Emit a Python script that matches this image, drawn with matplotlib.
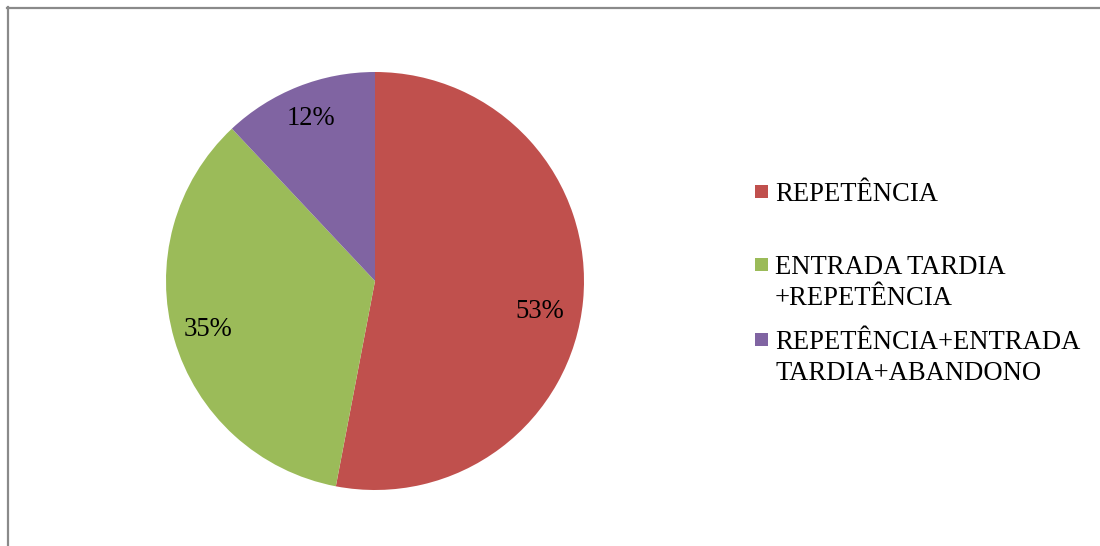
import numpy as np
import matplotlib
matplotlib.use("Agg")
import matplotlib.pyplot as plt
from matplotlib.patches import Rectangle
from matplotlib.lines import Line2D

categories = ["REPETÊNCIA", "ENTRADA TARDIA\n+REPETÊNCIA", "REPETÊNCIA+ENTRADA\nTARDIA+ABANDONO"]
shares = [53, 35, 12]
colors = ["#C0504D", "#9BBB59", "#8064A2"]

W, H = 1100, 546
fig = plt.figure(figsize=(W / 100, H / 100), dpi=100)
fig.patch.set_facecolor("white")
serif = "Liberation Serif"
fsize = 19.2

def fx(px):
    return px / W

def fy(py):
    return 1 - py / H

# outer chart frame (top and left edges visible)
fig.add_artist(Line2D([fx(7), fx(1100)], [fy(8), fy(8)], color="#8a8a8a", lw=1.6))
fig.add_artist(Line2D([fx(7.5), fx(7.5)], [fy(7), fy(546)], color="#8a8a8a", lw=1.6))

# pie
cx, cy, r = 375, 281, 209
ax = fig.add_axes([fx(cx - r), fy(cy + r), 2 * r / W, 2 * r / H])
wedges, _ = ax.pie(shares, colors=colors, startangle=90, counterclock=False,
                   wedgeprops=dict(linewidth=0))
ax.set_xlim(-1, 1)
ax.set_ylim(-1, 1)
ax.set_aspect("auto")
ax.axis("off")

# percentage labels inside each wedge
label_radius = [0.80, 0.83, 0.835]
angle_shift = [-5, 0, 0]
total = sum(shares)
for w, v, lr, sh in zip(wedges, shares, label_radius, angle_shift):
    mid = np.deg2rad((w.theta1 + w.theta2) / 2 + sh)
    ax.text(lr * np.cos(mid), lr * np.sin(mid), f"{round(100 * v / total)}%",
            ha="center", va="center", fontsize=fsize, family=serif, color="black")

# legend drawn as squares and text lines
entry_tops = [185, 258, 333]
line_gap = 31
for cat, col, top in zip(categories, colors, entry_tops):
    fig.add_artist(Rectangle((fx(755), fy(top + 13)), 13 / W, 13 / H,
                             facecolor=col, edgecolor="none", transform=fig.transFigure))
    for i, line in enumerate(cat.split("\n")):
        fig.text(fx(775), fy(top + 16 + i * line_gap), line, fontsize=fsize,
                 family=serif, ha="left", va="baseline", color="black")

fig.savefig("out.png", dpi=100)
